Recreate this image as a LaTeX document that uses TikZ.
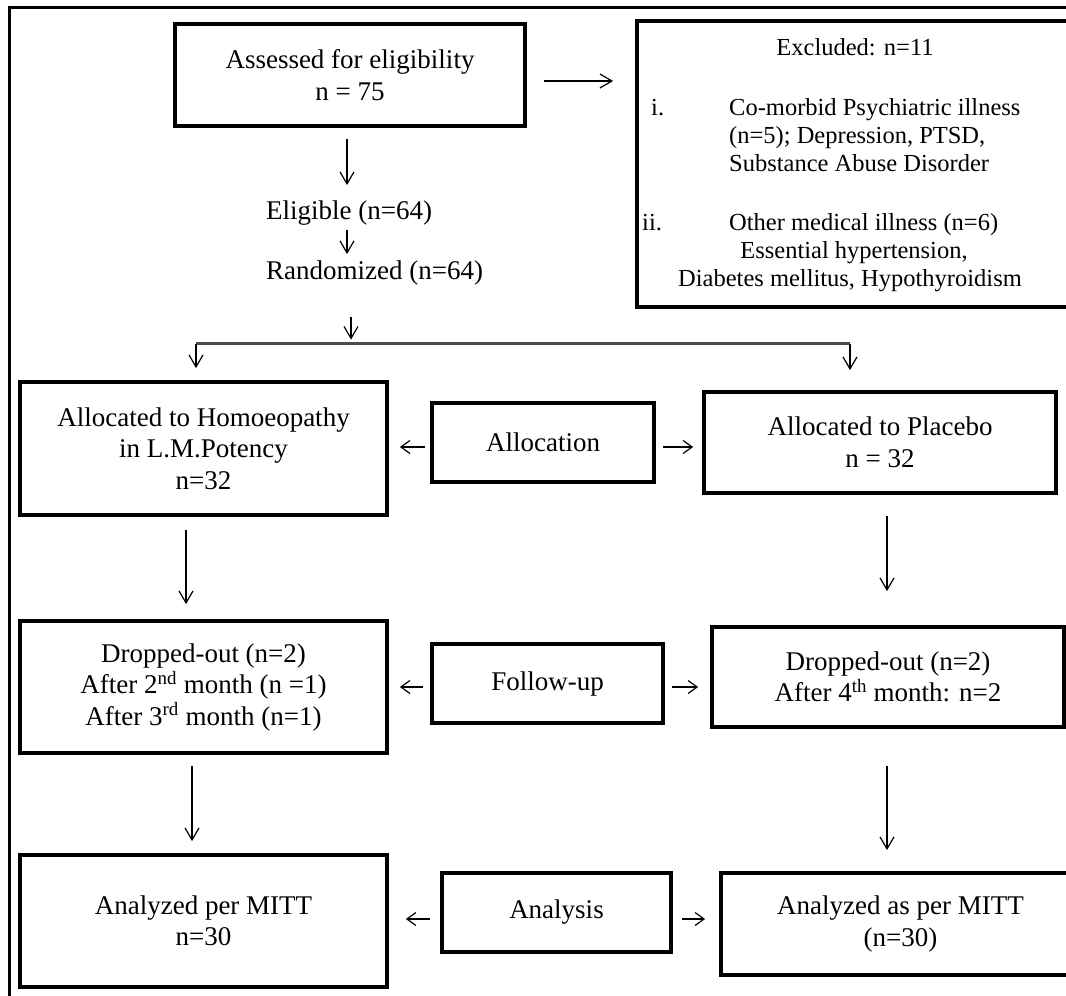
\documentclass[tikz,border=0pt]{standalone}
\usepackage{fontspec}
\setmainfont{Liberation Serif}
\usetikzlibrary{arrows.meta,calc}
\newcommand{\fbig}{\fontsize{27}{31.5}\selectfont}
\newcommand{\fsmall}{\fontsize{24.5}{28}\selectfont}
\begin{document}
\begin{tikzpicture}[x=1pt,y=-1pt,
  box/.style={draw, line width=3.8pt, inner sep=0pt, align=center, font=\fbig},
  txt/.style={inner sep=0pt, font=\fbig},
  stxt/.style={inner sep=0pt, font=\fsmall},
  arr/.style={-{Straight Barb[length=12pt,width=14pt,line width=1.2pt]}, line width=1.3pt},
  harr/.style={-{Straight Barb[length=9pt,width=13pt,line width=1.2pt]}, line width=1.3pt},
  splitline/.style={line width=2.4pt, draw=black!70},
  frame/.style={line width=3pt}
]
\useasboundingbox (0,0) rectangle (1066,996);
\clip (0,0) rectangle (1066,996);
\draw[frame] (9,1010) -- (9,7.5) -- (1080,7.5);

% boxes
\node[box, minimum width=350pt, minimum height=102pt] (assess) at (350,75) {Assessed for eligibility\\n = 75};
\node[box, minimum width=443pt, minimum height=286pt] (excl) at (858.5,164) {};
\node[box, minimum width=367pt, minimum height=133pt] (allocL) at (203.5,448.5) {Allocated to Homoeopathy\\in L.M.Potency\\n=32};
\node[box, minimum width=222pt, minimum height=79pt] (allocation) at (543,442.5) {Allocation};
\node[box, minimum width=352pt, minimum height=101pt] (placebo) at (880,442.5) {Allocated to Placebo\\n = 32};
\node[box, minimum width=367pt, minimum height=132pt] (dropL) at (203.5,687) {Dropped-out (n=2)\\After 2\textsuperscript{nd} month (n =1)\\After 3\textsuperscript{rd} month (n=1)};
\node[box, minimum width=231pt, minimum height=79pt] (followup) at (547.5,683.5) {Follow-up};
\node[box, minimum width=352pt, minimum height=100pt] (dropR) at (888,677) {Dropped-out (n=2)\\After 4\textsuperscript{th} month: n=2};
\node[box, minimum width=367pt, minimum height=132pt] (analyzedL) at (203.5,921) {Analyzed per MITT\\n=30};
\node[box, minimum width=229pt, minimum height=79pt] (analysis) at (556.5,912.5) {Analysis};
\node[box, minimum width=359pt, minimum height=102pt] (analyzedR) at (900.5,924) {Analyzed as per MITT\\(n=30)};

% excluded box texts
\node[stxt, anchor=base] (exclt) at (855,55) {Excluded: n=11};
\node[stxt, anchor=base west] (ei) at (651,115) {i.};
\node[stxt, anchor=base west] (e1a) at (729,115) {Co-morbid Psychiatric illness};
\node[stxt, anchor=base west] (e1b) at (729,143) {(n=5); Depression, PTSD,};
\node[stxt, anchor=base west] (e1c) at (729,171) {Substance Abuse Disorder};
\node[stxt, anchor=base west] (eii) at (642,230) {ii.};
\node[stxt, anchor=base west] (e2a) at (729,230) {Other medical illness (n=6)};
\node[stxt, anchor=base] (e2b) at (854,258) {Essential hypertension,};
\node[stxt, anchor=base] (e2c) at (850,286) {Diabetes mellitus, Hypothyroidism};

% free texts
\node[txt, anchor=base west] (eligible) at (266,219) {Eligible (n=64)};
\node[txt, anchor=base west] (randomized) at (266,279) {Randomized (n=64)};

% split coordinates
\coordinate (splitL) at ($(allocL.north)+(-7.5,-36.5)$);
\coordinate (splitR) at ($(placebo.north)+(-30,-46.5)$);
\coordinate (splitM) at ($(assess.south |- splitL)+(1,0)$);

% connectors
\draw[arr] ($(assess.east)+(17,6)$) -- ($(assess.east -| excl.west)+(-22,6)$);
\draw[arr] ($(assess.south)+(-3,11)$) -- ($(assess.south |- eligible.north)+(-3,-15)$);
\draw[arr] ($(assess.south |- eligible.south)+(-3,5)$) -- ($(assess.south |- randomized.north)+(-3,-6)$);
\draw[arr] ($(assess.south |- randomized.south)+(1,32)$) -- ($(splitM)+(0,-4)$);
\draw[splitline] (splitL) -- (splitR);
\draw[arr] (splitL) -- ($(allocL.north)+(-7.5,-12)$);
\draw[arr] (splitR) -- ($(placebo.north)+(-30,-20)$);

\draw[harr] ($(allocation.west)+(-5,4.5)$) -- ($(allocL.east |- allocation.west)+(11,4.5)$);
\draw[harr] ($(allocation.east)+(7,4.5)$) -- ($(placebo.west |- allocation.east)+(-9,4.5)$);

\draw[arr] ($(allocL.south)+(-17.5,13)$) -- ($(dropL.north)+(-17.5,-15)$);
\draw[arr] ($(placebo.south)+(7,21)$) -- ($(dropR.north)+(-1,-34)$);

\draw[harr] ($(followup.west)+(-7,3.5)$) -- ($(dropL.east |- followup.west)+(11,3.5)$);
\draw[harr] ($(followup.east)+(7,3.5)$) -- ($(dropR.west |- followup.east)+(-12,3.5)$);

\draw[arr] ($(dropL.south)+(-11.5,11)$) -- ($(analyzedL.north)+(-11.5,-12)$);
\draw[arr] ($(dropR.south)+(-1,37)$) -- ($(analyzedR.north)+(-13.5,-21)$);

\draw[harr] ($(analysis.west)+(-10,6.5)$) -- ($(analyzedL.east |- analysis.west)+(17,6.5)$);
\draw[harr] ($(analysis.east)+(9,6.5)$) -- ($(analyzedR.west |- analysis.east)+(-14,6.5)$);
\end{tikzpicture}
\end{document}
